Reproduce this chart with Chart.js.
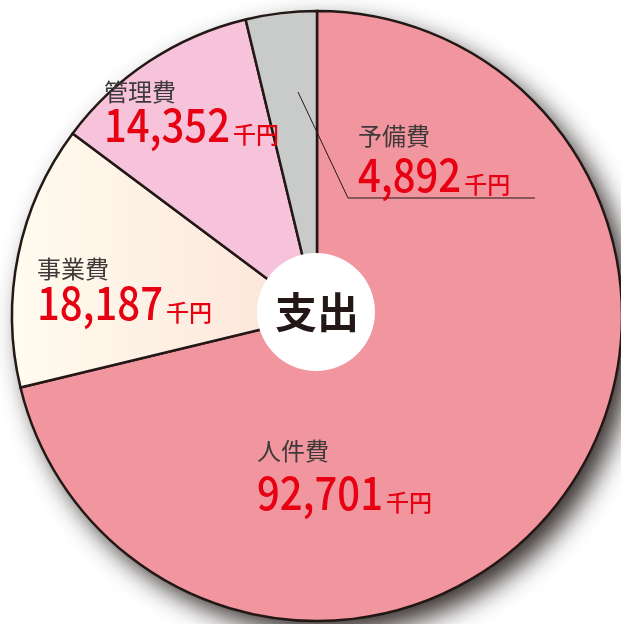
<!DOCTYPE html>
<html>
<head>
<meta charset="utf-8">
<script src="https://cdn.jsdelivr.net/npm/chart.js@4.4.0/dist/chart.umd.min.js"></script>
<style>
  html, body { margin: 0; padding: 0; background: #fff; }
  #wrap { width: 621px; height: 624px; position: relative; }
</style>
</head>
<body>
<div id="wrap"><canvas id="expenseChart" width="621" height="624"></canvas></div>
<script>
"use strict";

// 支出の内訳（千円）
const categories = ['人件費', '事業費', '管理費', '予備費'];
const amounts = [92701, 18187, 14352, 4892];
const unitLabel = '千円';
const centerTitle = '支出';

const sliceColors = ['#f1959e', null, '#f6c3da', '#c9caca'];

// label placement (canvas px)
const labelPos = [
    { x: 257, nameY: 451, base: 510 },
    { x: 37, nameY: 269, base: 320 },
    { x: 104, nameY: 92, base: 142 },
    { x: 358, nameY: 136, base: 192 }
];

const INK = '#231815';
const RED = '#e60012';

function creamGradient(context) {
    const g = context.chart.ctx.createLinearGradient(12, 0, 290, 0);
    g.addColorStop(0, '#fffcef');
    g.addColorStop(1, '#fde5d9');
    return g;
}

const shadowPlugin = {
    id: 'pieShadow',
    beforeDatasetsDraw(chart) {
        const arc = chart.getDatasetMeta(0).data[0];
        if (!arc) return;
        const { x, y, outerRadius } = arc.getProps(['x', 'y', 'outerRadius'], true);
        const ctx = chart.ctx;
        ctx.save();
        ctx.shadowColor = 'rgba(30,22,20,0.9)';
        ctx.shadowBlur = 26;
        ctx.shadowOffsetX = 11;
        ctx.shadowOffsetY = 12;
        ctx.fillStyle = '#fff';
        ctx.beginPath();
        ctx.arc(x, y, outerRadius, 0, Math.PI * 2);
        ctx.fill();
        ctx.restore();
    }
};

const labelPlugin = {
    id: 'sliceLabels',
    afterDatasetsDraw(chart) {
        const ctx = chart.ctx;
        const arc = chart.getDatasetMeta(0).data[0];
        const { x, y } = arc.getProps(['x', 'y'], true);

        // leader line for 予備費
        ctx.save();
        ctx.strokeStyle = INK;
        ctx.lineWidth = 1;
        ctx.beginPath();
        ctx.moveTo(298, 92);
        ctx.lineTo(348, 198);
        ctx.lineTo(535, 198);
        ctx.stroke();
        ctx.restore();

        // white centre disc + title
        ctx.save();
        ctx.fillStyle = '#fff';
        ctx.beginPath();
        ctx.arc(x - 1, y - 4, 59, 0, Math.PI * 2);
        ctx.fill();
        ctx.fillStyle = INK;
        ctx.font = "bold 42px 'Noto Sans CJK JP'";
        ctx.textAlign = 'center';
        ctx.textBaseline = 'middle';
        ctx.fillText(centerTitle, x, y - 4);
        ctx.restore();

        categories.forEach((name, i) => {
            const p = labelPos[i];
            ctx.save();
            ctx.textAlign = 'left';
            ctx.fillStyle = '#3e3a39';
            ctx.font = "24px 'Noto Sans CJK JP'";
            ctx.textBaseline = 'middle';
            ctx.fillText(name, p.x, p.nameY);

            const valueText = amounts[i].toLocaleString('en-US');
            ctx.textBaseline = 'alphabetic';
            ctx.fillStyle = RED;
            ctx.font = "500 46px 'Noto Sans CJK JP'";
            const sx = 0.87;
            const w = ctx.measureText(valueText).width * sx;
            ctx.save();
            ctx.translate(p.x, p.base);
            ctx.scale(sx, 1);
            ctx.fillText(valueText, 0, 0);
            ctx.restore();
            ctx.font = "500 23px 'Noto Sans CJK JP'";
            ctx.fillText(unitLabel, p.x + w + 3, p.base + 1);
            ctx.restore();
        });
    }
};

new Chart(document.getElementById('expenseChart'), {
    type: 'pie',
    data: {
        labels: categories,
        datasets: [{
            data: amounts,
            backgroundColor: (context) => sliceColors[context.dataIndex] || creamGradient(context),
            borderColor: INK,
            borderWidth: 2.5,
            borderJoinStyle: 'miter',
            clip: false
        }]
    },
    options: {
        responsive: false,
        animation: false,
        radius: 305,
        layout: { padding: { left: 13, right: 0, top: 8, bottom: 0 } },
        plugins: {
            legend: { display: false },
            tooltip: { enabled: false }
        }
    },
    plugins: [shadowPlugin, labelPlugin]
});
</script>
</body>
</html>
